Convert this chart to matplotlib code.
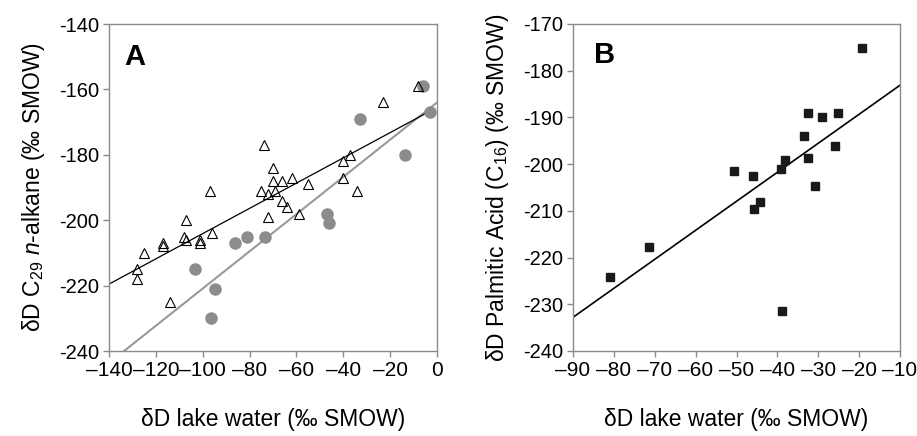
import numpy as np
import matplotlib
matplotlib.use('Agg')
import matplotlib.pyplot as plt
from matplotlib.ticker import FuncFormatter

plt.rcParams['font.family'] = ['Liberation Sans', 'DejaVu Sans']
plt.rcParams['mathtext.fontset'] = 'custom'
plt.rcParams['mathtext.rm'] = 'Liberation Sans'
plt.rcParams['mathtext.it'] = 'Liberation Sans:italic'

# panel A: triangles (open) and gray circles
tri_x = [-8, -23, -74, -70, -70, -66, -62, -75, -72, -69, -66, -64, -72, -55, -59,
         -40, -37, -40, -34, -97, -107, -108, -107, -101, -101, -96, -117, -117,
         -125, -128, -128, -114]
tri_y = [-159, -164, -177, -184, -188, -188, -187, -191, -192, -191, -194, -196, -199,
         -189, -198, -182, -180, -187, -191, -191, -200, -205, -206, -206, -207, -204,
         -207, -208, -210, -215, -218, -225]
circ_x = [-6, -3, -33, -13.5, -47, -46.3, -73.6, -81, -86.3, -103.5, -94.7, -96.4]
circ_y = [-159, -167, -169, -180, -198, -201, -205, -205, -207, -215, -221, -230]

# fitted lines (slope, intercept, x range)
fitA_tri = (0.386, -165.5, (-140, -3))
fitA_circ = (0.569, -164.0, (-133.6, 0))

# panel B: squares
sq_x = [-19.4, -32.6, -29.0, -25.1, -33.5, -25.9, -32.6, -38.1, -39.0, -50.7, -45.9,
        -44.3, -45.6, -30.8, -71.4, -81.0, -38.8]
sq_y = [-175.2, -189.1, -190.0, -189.1, -194.0, -196.1, -198.6, -199.1, -201.1, -201.4,
        -202.5, -208.1, -209.6, -204.7, -217.7, -224.1, -231.4]
fitB = (0.621, -176.9, (-90, -10))

spine_col = '#8a8a8a'
gray = '#8c8c8c'

fig = plt.figure(figsize=(9.17, 4.36), dpi=100)
axA = fig.add_axes([109 / 917, 85 / 436, 328 / 917, 327 / 436])
axB = fig.add_axes([573 / 917, 85 / 436, 327 / 917, 327 / 436])


def fit_line(ax, fit, **kw):
    m, b, (x0, x1) = fit
    xs = np.array([x0, x1])
    ax.plot(xs, m * xs + b, **kw)


def style(ax):
    for s in ax.spines.values():
        s.set_color(spine_col)
        s.set_linewidth(1.0)
    ax.tick_params(direction='out', length=4, width=1, color=spine_col, pad=3)
    ax.tick_params(axis='x', labelsize=15)
    ax.tick_params(axis='y', labelsize=14.5)
    ax.xaxis.set_major_formatter(FuncFormatter(lambda v, p: ('%d' % v).replace('-', '\u2013')))
    ax.yaxis.set_major_formatter(FuncFormatter(lambda v, p: '%d' % v))


# panel A
fit_line(axA, fitA_circ, color='#999999', lw=1.5, zorder=1)
fit_line(axA, fitA_tri, color='black', lw=0.9, zorder=1)
axA.plot(circ_x, circ_y, 'o', ms=8, color=gray, mec=gray, zorder=2)
axA.plot(tri_x, tri_y, '^', ms=7.8, mfc='none', mec='black', mew=0.8, zorder=3)
axA.set_xlim(-140, 0)
axA.set_ylim(-240, -140)
axA.set_xticks(np.arange(-140, 1, 20))
axA.set_yticks(np.arange(-240, -139, 20))
style(axA)
axA.set_xlabel('\u03b4D lake water (\u2030 SMOW)', fontsize=16.5, labelpad=20)
axA.set_ylabel('\u03b4D C$_{29}$ $n$-alkane (\u2030 SMOW)', fontsize=16.5, labelpad=9)
axA.text(0.079, 0.9, 'A', transform=axA.transAxes, fontsize=21, fontweight='bold',
         ha='center', va='center')

# panel B
fit_line(axB, fitB, color='black', lw=1.2, zorder=1)
axB.plot(sq_x, sq_y, 's', ms=6.3, color='#1a1a1a', zorder=2)
axB.set_xlim(-90, -10)
axB.set_ylim(-240, -170)
axB.set_xticks(np.arange(-90, -9, 10))
axB.set_yticks(np.arange(-240, -169, 10))
style(axB)
axB.set_xlabel('\u03b4D lake water (\u2030 SMOW)', fontsize=16.5, labelpad=20)
axB.set_ylabel('\u03b4D Palmitic Acid (C$_{16}$) (\u2030 SMOW)', fontsize=16.5, labelpad=9)
axB.text(0.098, 0.905, 'B', transform=axB.transAxes, fontsize=21, fontweight='bold',
         ha='center', va='center')

fig.savefig('out.png', dpi=100)
